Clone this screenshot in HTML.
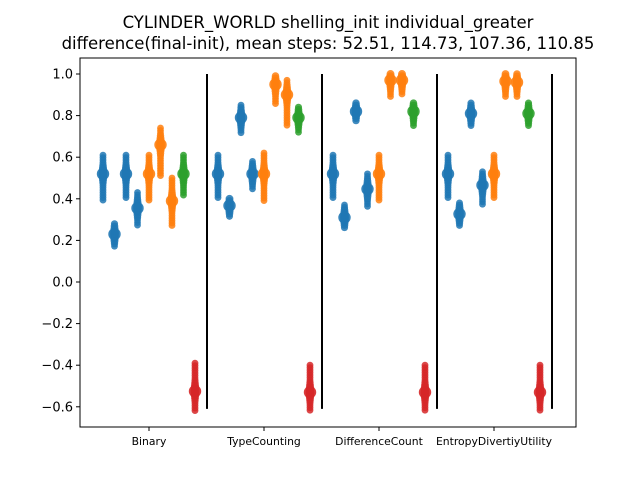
<!DOCTYPE html>
<html><head><meta charset="utf-8"><style>
body{margin:0;background:#fff}
svg{display:block;font-family:"DejaVu Sans","Liberation Sans",sans-serif}
</style></head><body>
<svg id="c" width="640" height="480">
<text x="328" y="28" text-anchor="middle" font-size="16.5">CYLINDER_WORLD shelling_init individual_greater</text>
<text x="328" y="49" text-anchor="middle" font-size="16.5">difference(final-init), mean steps: 52.51, 114.73, 107.36, 110.85</text>
<rect x="80" y="58" width="496" height="369" fill="none" stroke="#000" stroke-width="1"/>
<g id="marks"></g>
<g id="axes"></g>
</svg>
<script>
const categories=["Binary","TypeCounting","DifferenceCount","EntropyDivertiyUtility"];
const stripColors=["#1f77b4","#1f77b4","#1f77b4","#1f77b4","#ff7f0e","#ff7f0e","#ff7f0e","#2ca02c","#d62728"];
const means=[
[0.52,0.23,0.52,0.355,0.52,0.66,0.39,0.52,-0.525],
[0.52,0.367,0.79,0.52,0.52,0.95,0.90,0.79,-0.53],
[0.52,0.31,0.82,0.447,0.52,0.97,0.97,0.82,-0.53],
[0.52,0.327,0.81,0.466,0.52,0.965,0.96,0.81,-0.53]];
const mins=[
[0.39,0.16,0.40,0.27,0.39,0.51,0.265,0.41,-0.62],
[0.40,0.31,0.71,0.44,0.39,0.85,0.75,0.71,-0.62],
[0.40,0.25,0.77,0.36,0.39,0.88,0.90,0.75,-0.62],
[0.40,0.26,0.75,0.37,0.40,0.88,0.89,0.74,-0.62]];
const maxs=[
[0.61,0.28,0.61,0.43,0.61,0.74,0.50,0.61,-0.39],
[0.61,0.40,0.85,0.58,0.62,0.99,0.97,0.84,-0.40],
[0.61,0.37,0.86,0.52,0.61,1.0,1.0,0.86,-0.40],
[0.61,0.38,0.86,0.53,0.61,1.0,1.0,0.86,-0.40]];
const yTicks=[-0.6,-0.4,-0.2,0.0,0.2,0.4,0.6,0.8,1.0];
const NS="http://www.w3.org/2000/svg";
function yS(v){return 282-v*208;}
function xS(g){return 149+g*115;}
function mk(t,a,p){const e=document.createElementNS(NS,t);for(const k in a)e.setAttribute(k,a[k]);p.appendChild(e);return e;}
const M=document.getElementById('marks'),A=document.getElementById('axes');
categories.forEach((cat,g)=>{
  const grp=mk('g',{},M);
  
  
  for(let i=0;i<9;i++){
    const x=xS(g)+(i-4)*11.5,col=stripColors[i];
    const s=mk('g',{fill:col},grp);
    
    
    const y0=yS(maxs[g][i]),y1=yS(mins[g][i]),ym=yS(means[g][i]);
    for(let y=y0;y<=y1+0.01;y+=2.5){
      const d=Math.abs(y-ym),w=Math.max(0,1.2-d/10);
      const c=mk('circle',{cx:x,cy:y,r:3.4+w,'fill-opacity':0.85},s);
      
      
    }
    const m=mk('circle',{cx:x,cy:ym,r:6.2,'fill-opacity':0.9},s);
    
    
  }
  const sx=xS(g)+58;
  const l=mk('line',{x1:sx,x2:sx,y1:yS(1.0),y2:yS(-0.61),stroke:'#000','stroke-width':2},grp);
  
  
  const tk=mk('line',{x1:xS(g),x2:xS(g),y1:427,y2:431,stroke:'#000'},A);
  
  
  const t=mk('text',{x:xS(g),y:445,'text-anchor':'middle','font-size':10.8},A);
  t.textContent=cat;
  
  
});
yTicks.forEach(v=>{
  const tk=mk('line',{x1:76,x2:80,y1:yS(v),y2:yS(v),stroke:'#000'},A);
  
  
  const t=mk('text',{x:73,y:yS(v)+4.5,'text-anchor':'end','font-size':13},A);
  t.textContent=(v<0?'\u2212':'')+Math.abs(v).toFixed(1);
  
  
});
</script>
</body></html>
